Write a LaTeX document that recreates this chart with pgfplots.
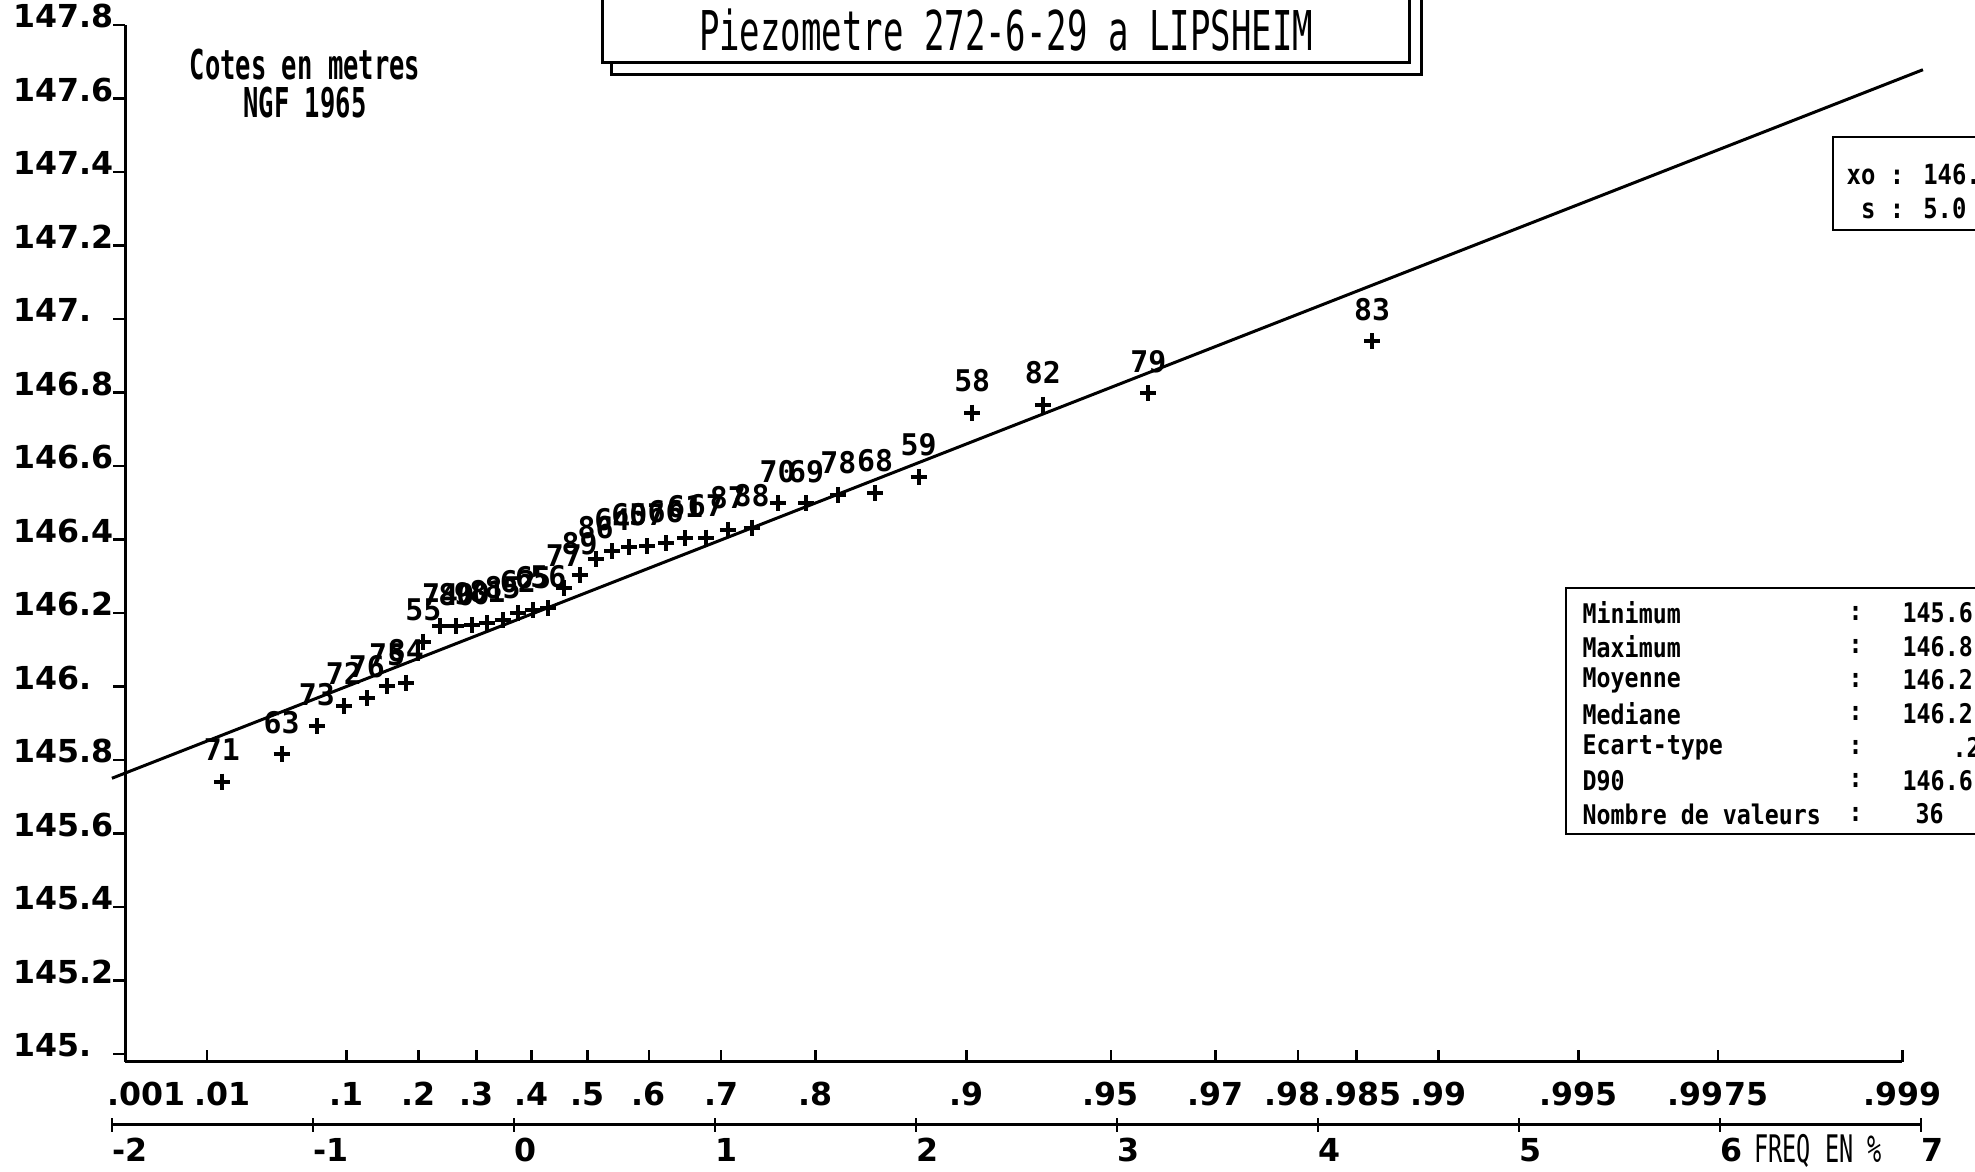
\documentclass[border=0pt]{standalone}
\usepackage{fontspec}
\usepackage{pgfplots}
\usepackage{pgfplotstable}
\pgfplotsset{compat=1.18}
\setmainfont{DejaVu Sans Mono}
\newfontfamily\tickfont{DejaVu Sans}
\newfontfamily\condfont{DejaVu Sans Mono}[FakeStretch=0.62]
\newfontfamily\boxfont{DejaVu Sans Mono}[FakeStretch=0.86]

% Gumbel reduced variable u, level (m NGF), year
\pgfplotstableread{
u v lab
-1.4532 145.741 71
-1.1563 145.816 63
-0.9810 145.891 73
-0.8462 145.947 72
-0.7321 145.968 76
-0.6306 146.000 75
-0.5375 146.010 84
-0.4502 146.122 55
-0.3670 146.163 74
-0.2869 146.163 80
-0.2088 146.167 90
-0.1321 146.172 81
-0.0562 146.181 85
0.0194 146.199 62
0.0950 146.208 65
0.1712 146.213 56
0.2483 146.268 77
0.3267 146.302 89
0.4068 146.346 86
0.4892 146.368 64
0.5743 146.380 60
0.6627 146.382 57
0.7550 146.390 66
0.8521 146.403 61
0.9549 146.405 67
1.0647 146.426 87
1.1830 146.432 88
1.3118 146.498 70
1.4541 146.498 69
1.6138 146.521 78
1.7970 146.527 68
2.0134 146.571 59
2.2801 146.745 58
2.6315 146.766 82
3.1568 146.797 79
4.2697 146.939 83
}\gumbeldata

\begin{document}
\begin{tikzpicture}
\begin{axis}[
  scale only axis,
  width=177.68mm, height=103.71mm,
  xmin=-1.9326, xmax=6.9073,
  ymin=144.978, ymax=147.8,
  axis x line=bottom, axis y line=left,
  axis line style={-, line width=0.3mm},
  clip=false,
  xtick={-1.9326,-1.5272,-0.8340,-0.4759,-0.1856,0.0874,0.3665,0.6717,1.0309,1.4999,2.2504,2.9702,3.4914,3.9019,4.1922,4.6001,5.2958,5.9902,6.9073},
  xticklabels={\hspace*{4.2mm}.001,\hspace*{3.2mm}.01,.1,.2,.3,.4,.5,.6,.7,.8,.9,.95,.97,.98\hspace*{1.2mm},\hspace*{1.2mm}.985,.99,.995,.9975,.999},
  ytick={145,145.2,145.4,145.6,145.8,146,146.2,146.4,146.6,146.8,147,147.2,147.4,147.6,147.8},
  yticklabels={145.,145.2,145.4,145.6,145.8,146.,146.2,146.4,146.6,146.8,147.,147.2,147.4,147.6,147.8},
  xtick align=inside, ytick align=outside,
  major tick length=1.2mm,
  tick style={line width=0.25mm, black},
  xticklabel style={font=\tickfont\bfseries\fontsize{9}{9}\selectfont, anchor=base, inner sep=0pt, yshift=-4.4mm},
  yticklabel style={font=\tickfont\bfseries\fontsize{9}{9}\selectfont, anchor=base west, inner sep=0pt, xshift=-10.07mm, yshift=-0.3mm},
]
% fitted line
\addplot[black, line width=0.3mm] coordinates {(-2.0,145.750) (7.01,147.678)};
% observed levels
\addplot[only marks, mark=+, mark size=0.8mm, mark options={line width=0.4mm},
  nodes near coords, point meta=explicit symbolic,
  nodes near coords style={font=\bfseries\fontsize{8.5}{8.5}\selectfont, anchor=base, inner sep=0pt, yshift=2.1mm}]
  table[x=u, y=v, meta=lab] {\gumbeldata};
\end{axis}

% reduced variable scale
\begin{axis}[
  at={(-1.35mm,-6.3mm)}, anchor=south west,
  scale only axis, width=180.9mm, height=5mm,
  xmin=-2, xmax=7, ymin=0, ymax=1,
  axis x line=bottom, axis y line=none,
  axis line style={-, line width=0.3mm},
  xtick={-2,-1,0,1,2,3,4,5,6,7},
  xticklabels={-2,-1,0,1,2,3,4,5,6,7},
  ytick=\empty,
  xtick align=center, major tick length=1.4mm,
  tick style={line width=0.25mm, black},
  xticklabel style={font=\tickfont\bfseries\fontsize{9}{9}\selectfont, anchor=base west, inner sep=0pt, yshift=-2.95mm},
]
\end{axis}

\begin{scope}[x=0.1mm, y=-0.1mm, shift={(-125.5,-1062)}]
  % title box with shadow
  \draw[line width=0.3mm] (602,-30) -- (602,63) -- (1409,63) -- (1409,-30);
  \draw[line width=0.3mm] (611,63) -- (611,75) -- (1421,75) -- (1421,-30);
  \node[font=\condfont\fontsize{15.6}{15.6}\selectfont] at (1006,30) {Piezometre 272-6-29 a LIPSHEIM};
  % units
  \node[font=\condfont\bfseries\fontsize{11.7}{11.7}\selectfont] at (305,65) {Cotes en metres};
  \node[font=\condfont\bfseries\fontsize{11.7}{11.7}\selectfont] at (305,103) {NGF 1965};
  % axis title
  \node[font=\condfont\fontsize{10.8}{10.8}\selectfont] at (1818,1151) {FREQ EN \%};
  % parameters box
  \draw[line width=0.25mm] (2060,137) -- (1833,137) -- (1833,230) -- (2060,230);
  \node[font=\boxfont\bfseries\fontsize{7.9}{7.9}\selectfont, anchor=west, inner sep=0pt] at (1846,174) {xo : 146.};
  \node[font=\boxfont\bfseries\fontsize{7.9}{7.9}\selectfont, anchor=west, inner sep=0pt] at (1846,208) {\phantom{x}s : 5.0};
  % statistics box
  \draw[line width=0.25mm] (2060,588) -- (1566,588) -- (1566,834) -- (2060,834);
  \foreach \t/\val/\vx [count=\k from 0] in {Minimum/145.6/1902, Maximum/146.8/1902, Moyenne/146.2/1902, Mediane/146.2/1902, Ecart-type/.2/1952, D90/146.6/1902, Nombre de valeurs/36/1915} {
    \node[font=\boxfont\bfseries\fontsize{7.7}{7.7}\selectfont, anchor=west, inner sep=0pt] at (1582,613+33.5*\k) {\t};
    \node[font=\boxfont\bfseries\fontsize{7.7}{7.7}\selectfont, anchor=west, inner sep=0pt] at (1848,613+33.5*\k) {:};
    \node[font=\boxfont\bfseries\fontsize{7.7}{7.7}\selectfont, anchor=west, inner sep=0pt] at (\vx,613+33.5*\k) {\val};
  }
\end{scope}

\pgfresetboundingbox
\begin{scope}[x=0.1mm, y=-0.1mm, shift={(-125.5,-1062)}]
  \path[use as bounding box] (0,0) rectangle (1975,1172);
\end{scope}
\end{tikzpicture}
\end{document}
